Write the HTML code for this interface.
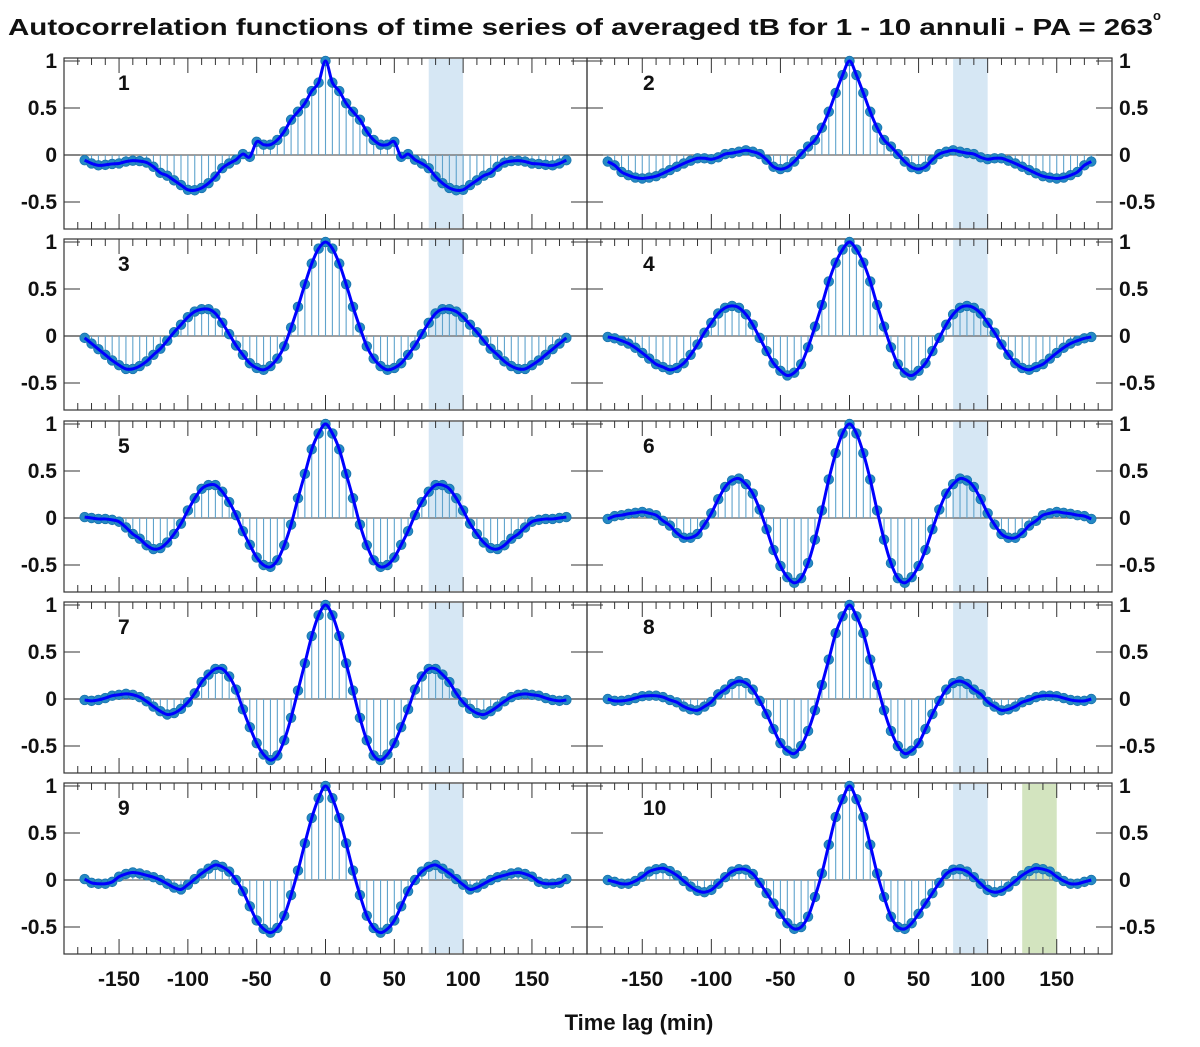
<!DOCTYPE html>
<html><head><meta charset="utf-8">
<style>
html,body{margin:0;padding:0;background:#fff;}
svg{display:block;font-family:"Liberation Sans",Arial,sans-serif;font-weight:bold;}
</style></head>
<body>
<svg id="chart" width="1200" height="1047" viewBox="0 0 1200 1047" xmlns="http://www.w3.org/2000/svg">
<text x="8" y="35" font-size="23" fill="#111" textLength="1145" lengthAdjust="spacingAndGlyphs">Autocorrelation functions of time series of averaged tB for 1 - 10 annuli - PA = 263</text>
<text x="1153" y="20" font-size="13" fill="#111">o</text>
<text x="639" y="1030" font-size="22" text-anchor="middle" fill="#111">Time lag  (min)</text>
<g id="panels"></g>
</svg>
<script>
const lags = [0,5,10,15,20,25,30,35,40,45,50,55,60,65,70,75,80,85,90,95,100,105,110,115,120,125,130,135,140,145,150,155,160,165,170,175];
const acf1 = [1,0.77,0.68,0.55,0.46,0.375,0.25,0.16,0.11,0.11,0.14,-0.02,0.01,-0.05,-0.09,-0.14,-0.23,-0.3,-0.35,-0.375,-0.37,-0.32,-0.27,-0.22,-0.19,-0.125,-0.08,-0.065,-0.06,-0.07,-0.09,-0.095,-0.105,-0.11,-0.09,-0.055];
const acf2 = [1,0.85,0.66,0.46,0.29,0.16,0.09,0.01,-0.07,-0.13,-0.15,-0.125,-0.05,0.01,0.035,0.05,0.035,0.02,0.01,-0.025,-0.045,-0.035,-0.035,-0.06,-0.09,-0.125,-0.16,-0.195,-0.225,-0.24,-0.25,-0.24,-0.215,-0.18,-0.11,-0.07];
const acf3 = [1,0.93,0.77,0.55,0.31,0.09,-0.11,-0.24,-0.32,-0.36,-0.34,-0.29,-0.2,-0.1,0.02,0.14,0.24,0.285,0.285,0.26,0.2,0.12,0.04,-0.05,-0.135,-0.2,-0.27,-0.32,-0.35,-0.35,-0.31,-0.26,-0.2,-0.14,-0.08,-0.02];
const acf4 = [1,0.92,0.78,0.58,0.33,0.1,-0.12,-0.3,-0.39,-0.42,-0.37,-0.29,-0.16,-0.02,0.12,0.23,0.3,0.32,0.3,0.24,0.14,0.035,-0.09,-0.2,-0.29,-0.34,-0.36,-0.33,-0.3,-0.24,-0.18,-0.125,-0.08,-0.05,-0.025,-0.01];
const acf5 = [1,0.9,0.73,0.47,0.21,-0.07,-0.29,-0.45,-0.52,-0.5,-0.42,-0.285,-0.14,0.03,0.17,0.28,0.35,0.35,0.31,0.21,0.08,-0.06,-0.17,-0.26,-0.32,-0.33,-0.29,-0.22,-0.17,-0.1,-0.04,-0.02,-0.01,-0.01,0,0.01];
const acf6 = [1,0.9,0.69,0.41,0.08,-0.23,-0.48,-0.64,-0.69,-0.63,-0.51,-0.34,-0.12,0.09,0.26,0.36,0.42,0.4,0.33,0.2,0.05,-0.07,-0.17,-0.21,-0.21,-0.16,-0.08,-0.03,0.03,0.05,0.065,0.055,0.045,0.03,0.02,-0.01];
const acf7 = [1,0.89,0.67,0.38,0.09,-0.2,-0.44,-0.6,-0.65,-0.59,-0.47,-0.3,-0.11,0.1,0.24,0.32,0.32,0.26,0.18,0.06,-0.035,-0.105,-0.15,-0.165,-0.13,-0.08,-0.025,0.02,0.045,0.055,0.045,0.035,0.01,-0.01,-0.02,-0.01];
const acf8 = [1,0.88,0.7,0.42,0.15,-0.12,-0.34,-0.5,-0.58,-0.55,-0.47,-0.32,-0.16,-0.02,0.1,0.17,0.19,0.16,0.1,0.05,-0.03,-0.08,-0.12,-0.11,-0.08,-0.035,-0.01,0.02,0.035,0.035,0.03,0.01,-0.01,-0.02,-0.02,0];
const acf9 = [1,0.87,0.66,0.39,0.1,-0.16,-0.38,-0.51,-0.56,-0.52,-0.43,-0.28,-0.12,0,0.09,0.14,0.16,0.12,0.07,0.01,-0.05,-0.1,-0.08,-0.04,0,0.03,0.05,0.07,0.08,0.065,0.035,-0.02,-0.04,-0.04,-0.03,0.01];
const acf10 = [1,0.86,0.67,0.375,0.07,-0.18,-0.39,-0.5,-0.52,-0.46,-0.36,-0.25,-0.14,-0.03,0.065,0.11,0.115,0.09,0.03,-0.04,-0.105,-0.13,-0.115,-0.07,-0.01,0.05,0.095,0.125,0.115,0.09,0.035,-0.01,-0.04,-0.04,-0.02,0];
const series = [acf1,acf2,acf3,acf4,acf5,acf6,acf7,acf8,acf9,acf10];
const blueBand = [75,100];
const greenBand = [125,150];
const xTicks = [-150,-100,-50,0,50,100,150];
const xTickLabels = ["-150","-100","-50","0","50","100","150"];
const yTicks = [1,0.5,0,-0.5];
const yTickLabels = ["1","0.5","0","-0.5"];

const NS = "http://www.w3.org/2000/svg";
const root = document.getElementById('panels');
const rowTops = [58,239,421,602,783];
const PH = 171;
const cols = [[64,587],[587,1112]];
const XMIN=-190, XMAX=190;

function mk(tag, attrs, parent){
  const e = document.createElementNS(NS, tag);
  for (const k in attrs) e.setAttribute(k, attrs[k]);
  (parent||root).appendChild(e);
  return e;
}

for (let p=0; p<10; p++){
  const row = Math.floor(p/2), col = p%2;
  const x0 = cols[col][0], x1 = cols[col][1];
  const top = rowTops[row], bot = top+PH;
  const sx = v => x0 + (v-XMIN)/(XMAX-XMIN)*(x1-x0);
  const sy = v => top + 97 - v*94;
  const g = mk('g', {});
  
  

  const b1 = mk('rect', {x:sx(blueBand[0]), y:top+1, width:sx(blueBand[1])-sx(blueBand[0]), height:PH-2, fill:'#d6e7f4'}, g);
  
  
  if (p===9){
    const b2 = mk('rect', {x:sx(greenBand[0]), y:top+1, width:sx(greenBand[1])-sx(greenBand[0]), height:PH-2, fill:'#d3e4bf'}, g);
    
    
  }
  const zl = mk('line', {x1:x0, x2:x1, y1:sy(0), y2:sy(0), stroke:'#666', 'stroke-width':1.2}, g);
  
  

  for (let t=-180; t<=180; t+=10){
    const major = (t%50===0);
    const L = major?15:7;
    mk('line', {x1:sx(t), x2:sx(t), y1:bot, y2:bot-L, stroke:'#333', 'stroke-width':1}, g);
    mk('line', {x1:sx(t), x2:sx(t), y1:top, y2:top+L, stroke:'#333', 'stroke-width':1}, g);
  }
  for (let i=0;i<yTicks.length;i++){
    const y = sy(yTicks[i]);
    mk('line', {x1:x0, x2:x0+16, y1:y, y2:y, stroke:'#333', 'stroke-width':1}, g);
    mk('line', {x1:x1, x2:x1-16, y1:y, y2:y, stroke:'#333', 'stroke-width':1}, g);
    const lab = mk('text', {x: col===0? 57 : 1119, y:y+7, 'font-size':21, 'text-anchor': col===0?'end':'start', fill:'#111'}, g);
    lab.textContent = yTickLabels[i];
    
    
  }
  const fr = mk('rect', {x:x0, y:top, width:x1-x0, height:PH, fill:'none', stroke:'#333', 'stroke-width':1.2}, g);
  
  

  const data = series[p];
  const pts = [];
  for (let i=lags.length-1;i>0;i--) pts.push([-lags[i], data[i]]);
  for (let i=0;i<lags.length;i++) pts.push([lags[i], data[i]]);
  const P = pts.map(d=>[sx(d[0]), sy(d[1])]);

  for (const q of P){
    const st = mk('line', {x1:q[0], x2:q[0], y1:sy(0), y2:q[1], stroke:'#5fa3cc', 'stroke-width':1.1}, g);
    
    
  }
  for (const q of P){
    const c = mk('circle', {cx:q[0], cy:q[1], r:4.8, fill:'#2589c4', stroke:'#1a75ad', 'stroke-width':0.8}, g);
    
    
  }
  let d = 'M'+P[0][0]+','+P[0][1];
  for (let i=0;i<P.length-1;i++){
    const a=P[Math.max(0,i-1)], b=P[i], c=P[i+1], e=P[Math.min(P.length-1,i+2)];
    const c1=[b[0]+(c[0]-a[0])/6, b[1]+(c[1]-a[1])/6];
    const c2=[c[0]-(e[0]-b[0])/6, c[1]-(e[1]-b[1])/6];
    d += ' C'+c1[0]+','+c1[1]+' '+c2[0]+','+c2[1]+' '+c[0]+','+c[1];
  }
  const ln = mk('path', {d:d, fill:'none', stroke:'#0000ff', 'stroke-width':3, 'stroke-linejoin':'round'}, g);
  
  

  const num = mk('text', {x: col===0 ? 118 : 643, y: top+32, 'font-size':21, fill:'#111'}, g);
  num.textContent = String(p+1);
  
  

  if (row===4){
    for (let i=0;i<xTicks.length;i++){
      const t = mk('text', {x:sx(xTicks[i]), y:986, 'font-size':21, 'text-anchor':'middle', fill:'#111'}, g);
      t.textContent = xTickLabels[i];
      
      
    }
  }
}
</script>
</body></html>
